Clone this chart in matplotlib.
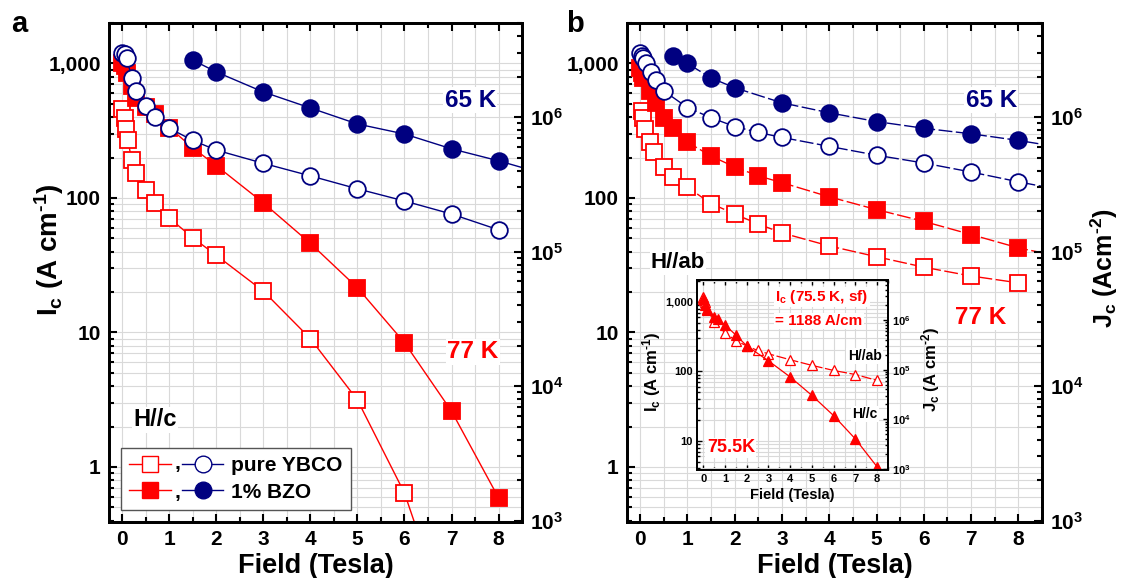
import numpy as np
import matplotlib
matplotlib.use('Agg')
import matplotlib.pyplot as plt
from matplotlib.ticker import LogLocator, FuncFormatter, MultipleLocator, NullFormatter
from matplotlib.lines import Line2D
from matplotlib.legend_handler import HandlerTuple

plt.rcParams['font.family'] = ['Liberation Sans', 'DejaVu Sans']
plt.rcParams['font.weight'] = 'bold'
plt.rcParams['axes.labelweight'] = 'bold'
plt.rcParams['mathtext.fontset'] = 'custom'
plt.rcParams['mathtext.rm'] = 'Liberation Sans:bold'
plt.rcParams['mathtext.it'] = 'Liberation Sans:bold'
plt.rcParams['mathtext.bf'] = 'Liberation Sans:bold'
plt.rcParams['mathtext.default'] = 'rm'

NAVY = '#000080'
RED = '#ff0000'
JC_FACTOR = 2500  # Jc = Ic / épaisseur du film

# --- a : H//c ---
a_ybco65_B = [0, 0.05, 0.1, 0.2, 0.3, 0.5, 0.7, 1, 1.5, 2, 3, 4, 5, 6, 7, 8]
a_ybco65_Ic = [1195, 1170, 1090, 780, 620, 485, 402, 330, 268, 227, 181, 146, 117, 95, 76, 58]
a_bzo65_B = [1.5, 2, 3, 4, 5, 6, 7, 8, 9]
a_bzo65_Ic = [1060, 865, 614, 467, 355, 299, 232, 189, 150]
a_bzo77_B = [0, 0.05, 0.1, 0.2, 0.3, 0.5, 0.7, 1, 1.5, 2, 3, 4, 5, 6, 7, 8]
a_bzo77_Ic = [1000, 950, 845, 680, 555, 476, 423, 334, 236, 174, 92, 46, 21.5, 8.4, 2.6, 0.59]
a_ybco77_B = [0, 0.05, 0.08, 0.12, 0.2, 0.3, 0.5, 0.7, 1, 1.5, 2, 3, 4, 5, 6, 7]
a_ybco77_Ic = [462, 391, 326, 270, 192, 154, 114, 92, 71, 50.6, 37.5, 20.3, 9.0, 3.15, 0.64, 0.06]

# --- b : H//ab ---
b_bzo65_B = [0.7, 1, 1.5, 2, 3, 4, 5, 6, 7, 8, 9]
b_bzo65_Ic = [1130, 1000, 780, 660, 510, 430, 370, 330, 300, 268, 235]
b_ybco65_B = [0, 0.03, 0.06, 0.12, 0.22, 0.33, 0.5, 1, 1.5, 2, 2.5, 3, 4, 5, 6, 7, 8, 9]
b_ybco65_Ic = [1190, 1130, 1090, 1000, 860, 750, 625, 470, 395, 340, 307, 282, 242, 208, 182, 156, 132, 113]
b_bzo77_B = [0, 0.03, 0.05, 0.2, 0.33, 0.5, 0.7, 1, 1.5, 2, 2.5, 3, 4, 5, 6, 7, 8, 9]
b_bzo77_Ic = [930, 850, 780, 625, 510, 390, 330, 260, 205, 170, 146, 130, 102, 82, 67, 53.5, 42.6, 36]
b_ybco77_B = [0.03, 0.05, 0.1, 0.2, 0.3, 0.5, 0.7, 1, 1.5, 2, 2.5, 3, 4, 5, 6, 7, 8]
b_ybco77_Ic = [445, 395, 328, 259, 219, 170, 144, 120, 91, 76, 64, 55, 44, 36.6, 30.6, 26.3, 23.4]

# --- encart 75.5 K ---
in_ab_B = [0, 0.05, 0.1, 0.2, 0.5, 1, 1.5, 2, 2.5, 3, 4, 5, 6, 7, 8]
in_ab_Ic = [1188, 1050, 1000, 780, 520, 360, 277, 233, 200, 179, 147, 122, 103, 90, 74]
in_c_B = [0, 0.1, 0.2, 0.5, 0.7, 1, 1.5, 2, 3, 4, 5, 6, 7, 8]
in_c_Ic = [1100, 900, 760, 610, 560, 465, 335, 233, 142, 83, 45, 23, 10.6, 4.2]

XLIM = (-0.28, 8.5)
YLIM = (0.39, 2000)
HY = '\u2010'  # trait d'union court pour les exposants

comma_fmt = FuncFormatter(lambda v, _: f'{v:,.0f}')
pow_fmt = FuncFormatter(lambda v, _: r'$10^{%d}$' % int(round(np.log10(v))))


def style_axes(ax, ylim, lab=15, big=True):
    ax.set_yscale('log')
    ax.set_xlim(*XLIM)
    ax.set_ylim(*ylim)
    ax.xaxis.set_major_locator(MultipleLocator(1))
    ax.xaxis.set_minor_locator(MultipleLocator(0.5))
    ax.yaxis.set_major_locator(LogLocator(base=10))
    ax.yaxis.set_minor_locator(LogLocator(base=10, subs=np.arange(2, 10)))
    ax.yaxis.set_major_formatter(comma_fmt)
    ax.yaxis.set_minor_formatter(NullFormatter())
    ax.grid(True, which='both', color='#d9d9d9', lw=0.8)
    ax.set_axisbelow(True)
    ax.tick_params(which='both', direction='in', top=True, right=False, labelsize=lab,
                   width=1.5 if big else 1, pad=6 if big else 3)
    ax.tick_params(which='major', length=6 if big else 3.5)
    ax.tick_params(which='minor', length=3.5 if big else 2)
    for s in ax.spines.values():
        s.set_linewidth(2 if big else 1.3)


def jc_axis(ax, ylim, lab=15, big=True):
    ax2 = ax.twinx()
    ax2.set_yscale('log')
    ax2.set_ylim(*ylim)
    ax2.yaxis.set_major_locator(LogLocator(base=10))
    ax2.yaxis.set_minor_locator(LogLocator(base=10, subs=np.arange(2, 10)))
    ax2.yaxis.set_major_formatter(pow_fmt)
    ax2.yaxis.set_minor_formatter(NullFormatter())
    ax2.tick_params(which='both', direction='in', labelsize=lab, width=1.5 if big else 1,
                    pad=6 if big else 3)
    ax2.tick_params(which='major', length=6 if big else 3.5)
    ax2.tick_params(which='minor', length=3.5 if big else 2)
    for s in ax2.spines.values():
        s.set_linewidth(2 if big else 1.3)
    return ax2


def series(ax, B, Ic, color, marker, filled, ls='-'):
    ax.plot(B, Ic, color=color, lw=1, ls=ls, marker=marker, ms=12 if marker == 'o' else 11,
            mfc=color if filled else 'white', mec=color, mew=1.3)


fig = plt.figure(figsize=(11.23, 5.78), dpi=100)
ax_a = fig.add_axes([0.0971, 0.0969, 0.3678, 0.8633])
ax_b = fig.add_axes([0.5583, 0.0969, 0.3695, 0.8633])

white_box = dict(facecolor='white', edgecolor='none', pad=1)

# panneau a
style_axes(ax_a, YLIM)
series(ax_a, a_ybco77_B, a_ybco77_Ic, RED, 's', False)
series(ax_a, a_bzo77_B, a_bzo77_Ic, RED, 's', True)
series(ax_a, a_ybco65_B, a_ybco65_Ic, NAVY, 'o', False)
series(ax_a, a_bzo65_B, a_bzo65_Ic, NAVY, 'o', True)
jc_axis(ax_a, (YLIM[0] * JC_FACTOR, YLIM[1] * JC_FACTOR))
ax_a.set_xlabel('Field (Tesla)', fontsize=19.5)
ax_a.xaxis.set_label_coords(0.5, -0.062)
ax_a.xaxis.label.set_va('top')
ax_a.set_ylabel('I$_{c}$ (A cm$^{' + HY + '1}$)', fontsize=20)
ax_a.yaxis.set_label_coords(-0.104, 0.545)
ax_a.text(7.4, 535, '65 K', color=NAVY, fontsize=17.5, ha='center', va='center', bbox=white_box)
ax_a.text(7.45, 7.2, '77 K', color=RED, fontsize=17.5, ha='center', va='center', bbox=white_box)
ax_a.text(0.7, 2.25, 'H//c', color='black', fontsize=17, ha='center', va='center', bbox=white_box)

h_open = (Line2D([], [], color=RED, lw=1, marker='s', ms=11, mfc='white', mec=RED),
          Line2D([], [], color=NAVY, lw=1, marker='o', ms=12, mfc='white', mec=NAVY))
h_fill = (Line2D([], [], color=RED, lw=1, marker='s', ms=11, mfc=RED, mec=RED),
          Line2D([], [], color=NAVY, lw=1, marker='o', ms=12, mfc=NAVY, mec=NAVY))
leg = ax_a.legend([h_open, h_fill], ['pure YBCO', '1% BZO'],
                  handler_map={tuple: HandlerTuple(ndivide=None, pad=0.55)},
                  loc='lower left', bbox_to_anchor=(0.029, 0.024), borderaxespad=0,
                  fontsize=15, handlelength=4.5, handletextpad=0.4, labelspacing=0.35,
                  fancybox=False, edgecolor='#555555', framealpha=1)
leg.get_frame().set_linewidth(1)
ax_a.text(0.165, 0.118, ',', transform=ax_a.transAxes, fontsize=15, ha='center', va='center', zorder=10)
ax_a.text(0.165, 0.060, ',', transform=ax_a.transAxes, fontsize=15, ha='center', va='center', zorder=10)

# panneau b
dash = (0, (10, 2.5))
style_axes(ax_b, YLIM)
series(ax_b, b_ybco77_B, b_ybco77_Ic, RED, 's', False, dash)
series(ax_b, b_bzo77_B, b_bzo77_Ic, RED, 's', True, dash)
series(ax_b, b_ybco65_B, b_ybco65_Ic, NAVY, 'o', False, dash)
series(ax_b, b_bzo65_B, b_bzo65_Ic, NAVY, 'o', True, dash)
axb2 = jc_axis(ax_b, (YLIM[0] * JC_FACTOR, YLIM[1] * JC_FACTOR))
axb2.set_ylabel('J$_{c}$ (Acm$^{' + HY + '2}$)', fontsize=18)
axb2.yaxis.set_label_coords(1.112, 0.509)
axb2.yaxis.label.set_va('top')
ax_b.set_xlabel('Field (Tesla)', fontsize=19.5)
ax_b.xaxis.set_label_coords(0.5, -0.062)
ax_b.xaxis.label.set_va('top')
ax_b.text(7.43, 535, '65 K', color=NAVY, fontsize=17.5, ha='center', va='center', bbox=white_box)
ax_b.text(7.2, 13, '77 K', color=RED, fontsize=17.5, ha='center', va='center', bbox=white_box)
ax_b.text(0.8, 33, 'H//ab', color='black', fontsize=16, ha='center', va='center', bbox=white_box)

# encart
IN_YLIM = (3.8, 2070)
ax_in = fig.add_axes([0.6207, 0.1869, 0.1701, 0.3287], zorder=5)
ax_in.set_facecolor('white')
style_axes(ax_in, IN_YLIM, lab=8, big=False)
ax_in.plot(in_ab_B, in_ab_Ic, color=RED, lw=0.9, ls=(0, (8, 2)), marker='^', ms=6.5,
           mfc='white', mec=RED, mew=0.9)
ax_in.plot(in_c_B, in_c_Ic, color=RED, lw=0.9, ls='-', marker='^', ms=6.5,
           mfc=RED, mec=RED, mew=0.9)
ax_in2 = jc_axis(ax_in, (950, 6.4e6), lab=8, big=False)
ax_in2.set_zorder(6)
ax_in.set_xlabel('Field (Tesla)', fontsize=10.5)
ax_in.xaxis.set_label_coords(0.5, -0.095)
ax_in.xaxis.label.set_va('top')
ax_in.set_ylabel('I$_{c}$ (A cm$^{' + HY + '1}$)', fontsize=12)
ax_in.yaxis.set_label_coords(-0.178, 0.516)
ax_in2.set_ylabel('J$_{c}$ (A cm$^{' + HY + '2}$)', fontsize=12)
ax_in2.yaxis.set_label_coords(1.162, 0.526)
ax_in2.yaxis.label.set_va('top')
ax_in.text(3.3, 1180, 'I$_{c}$ (75.5 K, sf)', color=RED, fontsize=11, ha='left', va='center', bbox=white_box)
ax_in.text(3.3, 533, '= 1188 A/cm', color=RED, fontsize=11, ha='left', va='center', bbox=white_box)
ax_in.text(7.42, 167, 'H//ab', color='black', fontsize=10, ha='center', va='center', bbox=white_box)
ax_in.text(7.44, 24.4, 'H//c', color='black', fontsize=10, ha='center', va='center', bbox=white_box)
ax_in.text(1.28, 7.9, '75.5K', color=RED, fontsize=13, ha='center', va='center', bbox=white_box)

fig.text(19 / 1123, 1 - 24 / 578, 'a', fontsize=21, ha='center', va='center')
fig.text(575 / 1123, 1 - 24 / 578, 'b', fontsize=21, ha='center', va='center')

fig.savefig('out.png', dpi=100)
